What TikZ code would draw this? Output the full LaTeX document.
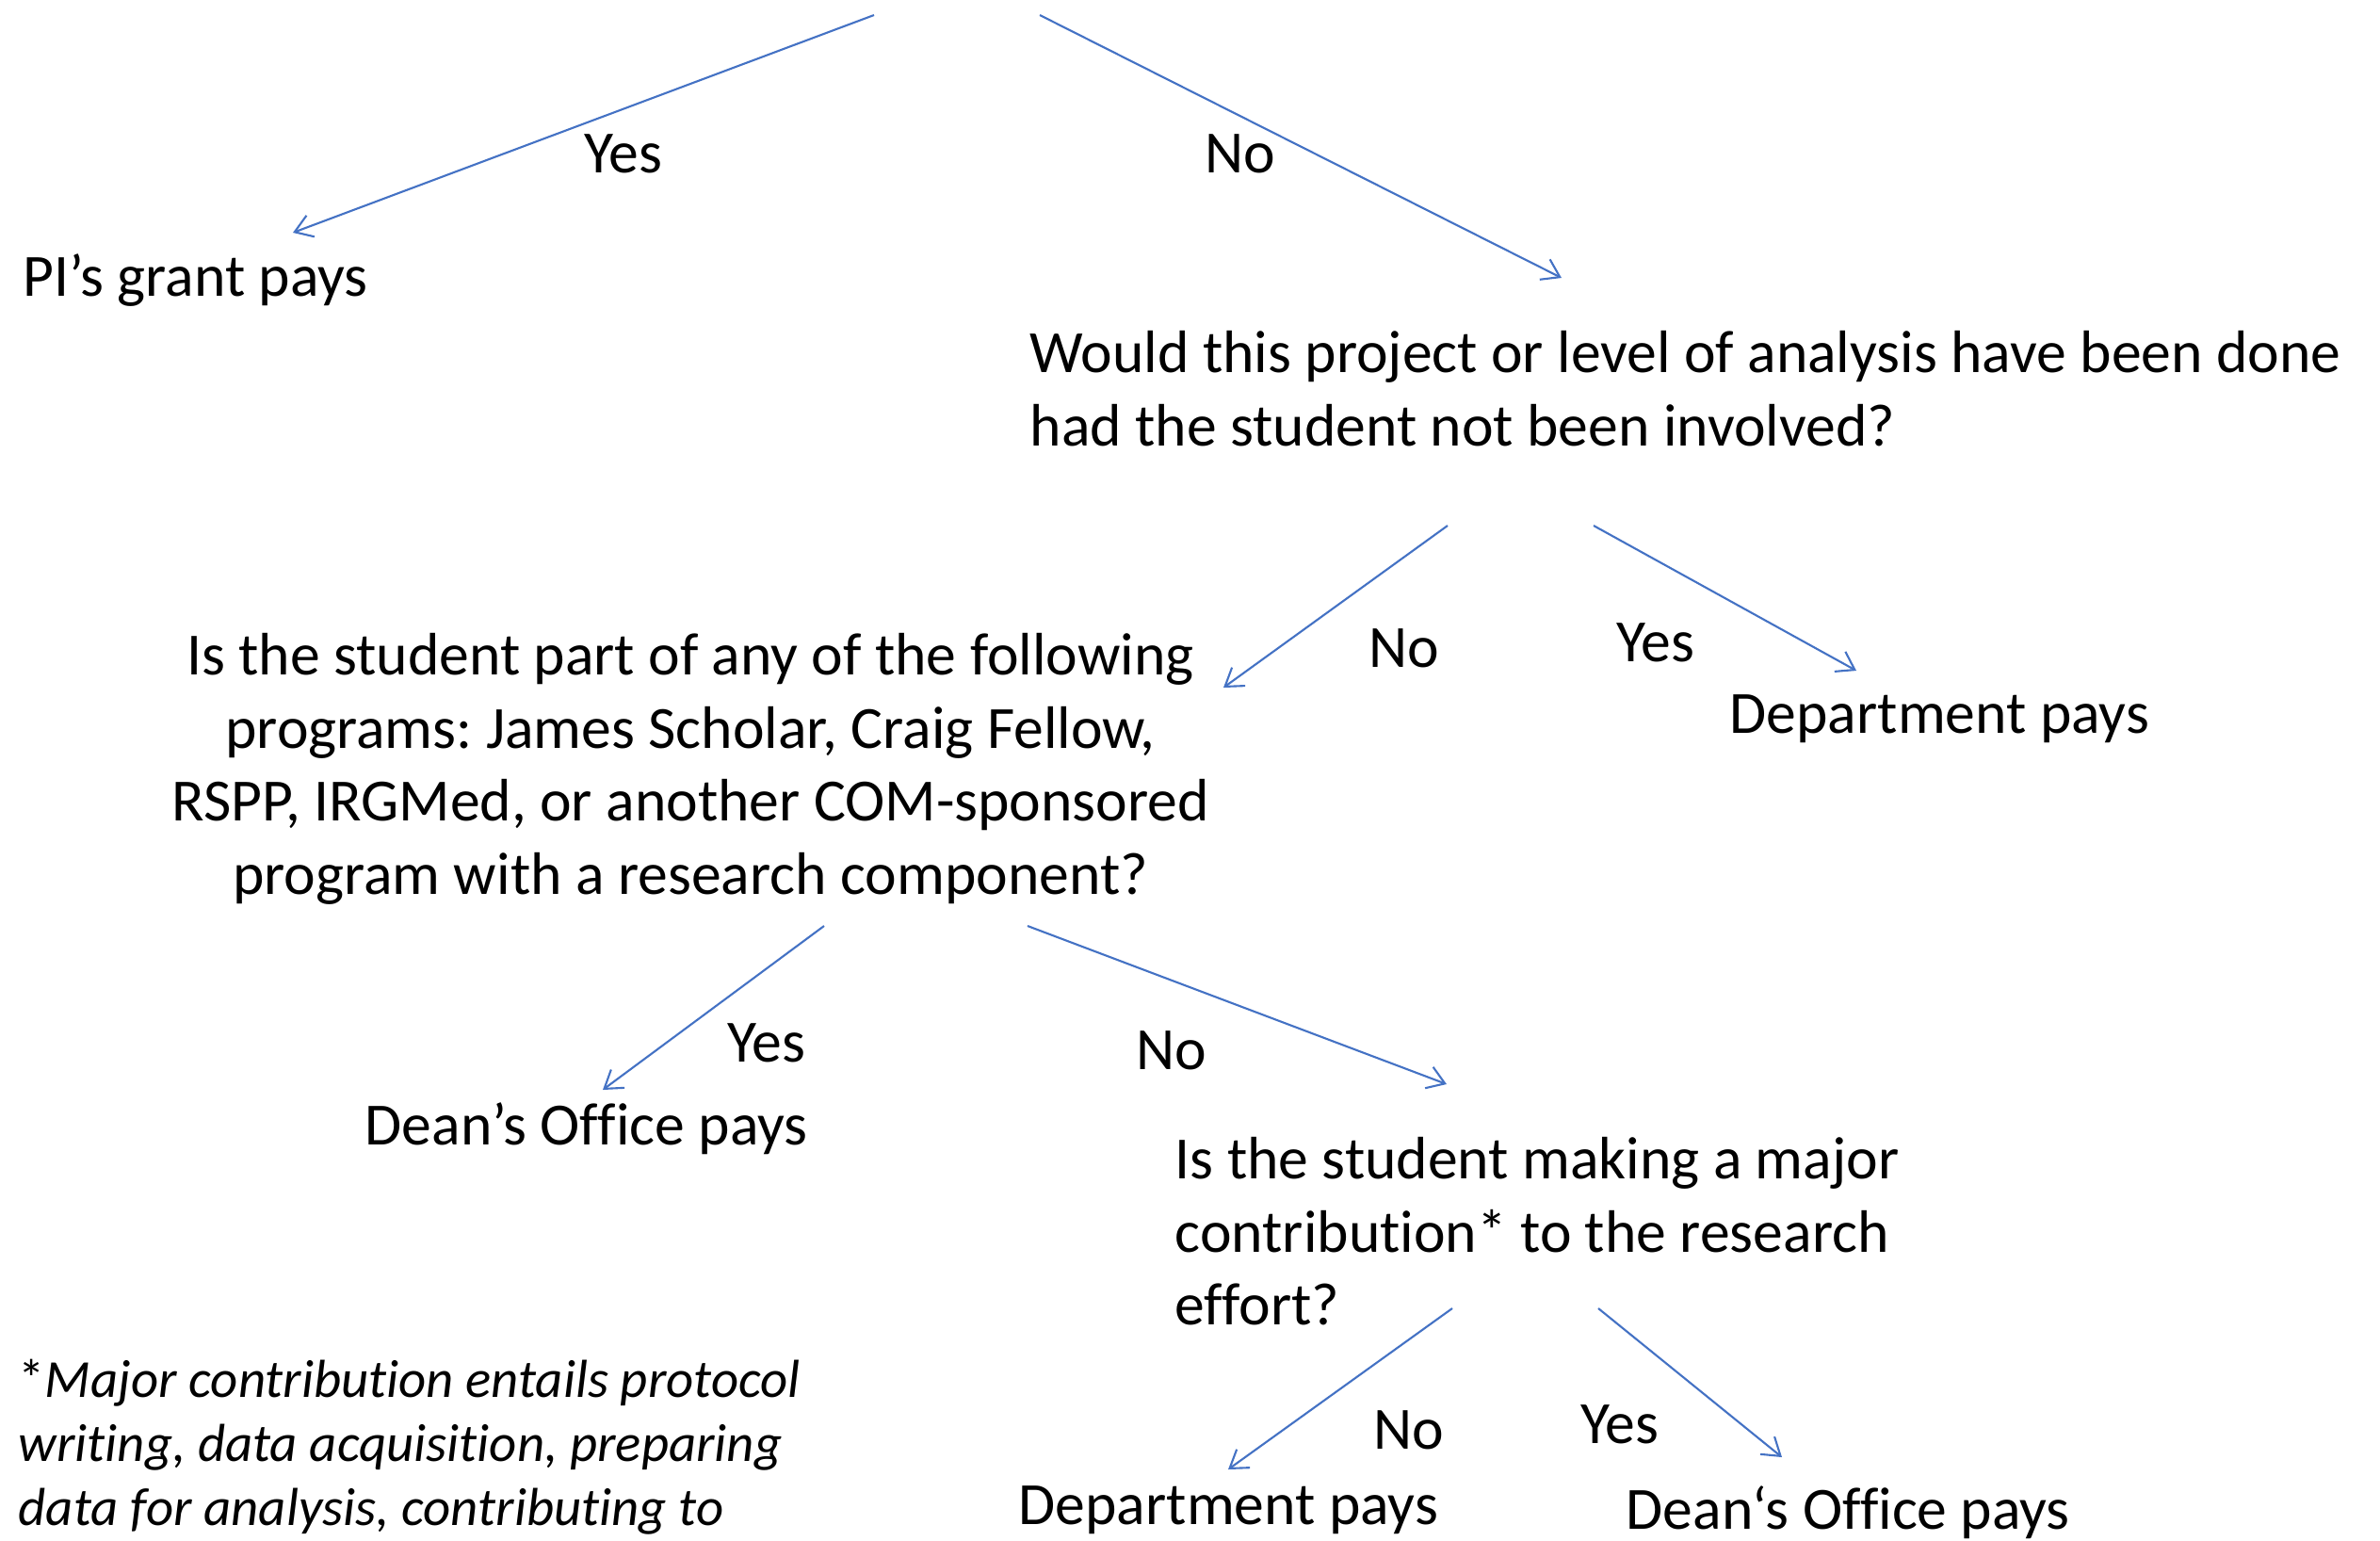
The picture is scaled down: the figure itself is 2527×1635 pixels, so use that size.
\documentclass[tikz,border=0pt]{standalone}
\usepackage{fontspec}
\setmainfont[Ligatures=NoCommon]{Carlito}
\usetikzlibrary{arrows.meta}
\definecolor{arrowblue}{HTML}{4472C4}
\frenchspacing
\begin{document}
\begin{tikzpicture}[x=0.01cm,y=-0.01cm,
  txt/.style={font=\fontsize{18.1}{22}\selectfont, inner sep=0pt},
  foot/.style={font=\fontsize{16.15}{19.4}\selectfont\itshape, inner sep=0pt, align=left},
  lbl/.style={font=\fontsize{18.1}{22}\selectfont, inner sep=0pt},
  conn/.style={draw=arrowblue, line width=0.6pt, -{Straight Barb[length=1.8mm,width=2.4mm]}}]
\useasboundingbox (0,0) rectangle (2527,1635);

% texts
\node[txt, anchor=base west] (pi) at (24,314) {PI’s grant pays};
\node[txt, anchor=north west, align=left] (q1) at (1093,351)
  {Would this project or level of analysis have been done\\had the student not been involved?};
\node[txt, anchor=north, align=center] (q2) at (733,672)
  {Is the student part of any of the following\\programs: James Scholar, Craig Fellow,\\RSPP, IRGMed, or another COM-sponsored\\program with a research component?};
\node[txt, anchor=base west] (dept1) at (1836,778) {Department pays};
\node[txt, anchor=base west] (deans1) at (387,1215) {Dean’s Office pays};
\node[txt, anchor=north west, align=left] (q3) at (1247,1207)
  {Is the student making a major\\contribution* to the research\\effort?};
\node[txt, anchor=base west] (dept2) at (1081,1618) {Department pays};
\node[txt, anchor=base west] (deans2) at (1726,1623) {Dean‘s Office pays};
\node[foot, anchor=north west] (note) at (19,1442)
  {{\upshape *}Major contribution entails protocol\\writing, data acquisition, preparing\\data for analysis, contributing to};

% connector end points
\coordinate (s1) at (928,16);   \coordinate (e1) at (311,247);
\coordinate (s2) at (1104,16);  \coordinate (e2) at (1658,295);
\coordinate (s3) at (1537,558); \coordinate (e3) at (1299,730);
\coordinate (s4) at (1692,558); \coordinate (e4) at (1971,712);
\coordinate (s5) at (875,983);  \coordinate (e5) at (640,1157);
\coordinate (s6) at (1091,983); \coordinate (e6) at (1536,1151);
\coordinate (s7) at (1542,1389);\coordinate (e7) at (1304,1560);
\coordinate (s8) at (1697,1389);\coordinate (e8) at (1892,1547);

\draw[conn] (s1) -- (e1);
\draw[conn] (s2) -- (e2);
\draw[conn] (s3) -- (e3);
\draw[conn] (s4) -- (e4);
\draw[conn] (s5) -- (e5);
\draw[conn] (s6) -- (e6);
\draw[conn] (s7) -- (e7);
\draw[conn] (s8) -- (e8);

% labels
\node[lbl] (l1) at (662,163) {Yes};
\node[lbl] (l2) at (1317,163) {No};
\node[lbl] (l3) at (1491,688) {No};
\node[lbl] (l4) at (1758,682) {Yes};
\node[lbl] (l5) at (814,1107) {Yes};
\node[lbl] (l6) at (1244,1115) {No};
\node[lbl] (l7) at (1496,1518) {No};
\node[lbl] (l8) at (1720,1512) {Yes};
\end{tikzpicture}
\end{document}
